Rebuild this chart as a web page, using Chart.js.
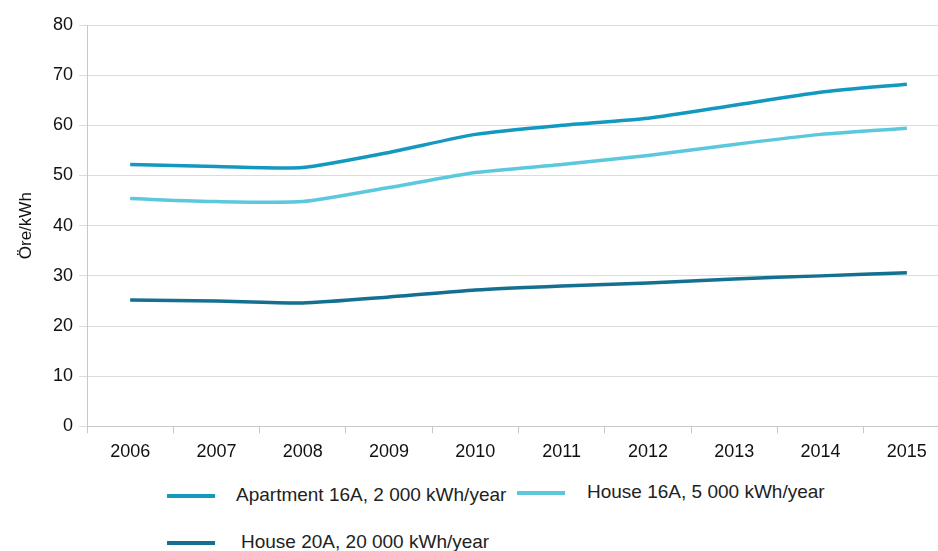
<!DOCTYPE html>
<html>
<head>
<meta charset="utf-8">
<script src="https://cdn.jsdelivr.net/npm/chart.js@4/dist/chart.umd.min.js"></script>
<style>
  html, body { margin: 0; padding: 0; background: #fff; overflow: hidden; }
  #wrap { position: relative; width: 938px; height: 551px; overflow: hidden; }
  #box { position: absolute; left: 0; top: 0; width: 950px; height: 471px; }
  .leg { position: absolute; font-family: "Liberation Sans", Arial, sans-serif;
         font-size: 19px; color: #222; white-space: nowrap; line-height: 20px; }
  .leg span.sw { position: absolute; left: 0; top: 9px; width: 48px; height: 4px; }
  .leg span.tx { position: absolute; top: 0; }
</style>
</head>
<body>
<div id="wrap">
  <div id="box"><canvas id="chart"></canvas></div>
  <div id="legend"></div>
</div>
<script>
// data
const years = ['2006', '2007', '2008', '2009', '2010', '2011', '2012', '2013', '2014', '2015'];
const apartment16A = [52.2, 51.8, 51.6, 54.6, 58.2, 60.0, 61.4, 64.0, 66.6, 68.2];
const house16A = [45.4, 44.8, 44.8, 47.6, 50.6, 52.2, 54.0, 56.2, 58.2, 59.4];
const house20A = [25.2, 25.0, 24.6, 25.8, 27.2, 28.0, 28.6, 29.4, 30.0, 30.6];
const seriesNames = ['Apartment 16A, 2 000 kWh/year', 'House 16A, 5 000 kWh/year', 'House 20A, 20 000 kWh/year'];
const seriesColors = ['#1399c0', '#5cc8dd', '#147090'];

const mkSet = (i, vals) => ({
    label: seriesNames[i],
    data: vals,
    borderColor: seriesColors[i],
    backgroundColor: seriesColors[i],
    borderWidth: 3.5,
    pointRadius: 0,
    tension: 0.2,
    fill: false
});

const ctx = document.getElementById('chart');
new Chart(ctx, {
    type: 'line',
    data: {
        labels: years,
        datasets: [mkSet(0, apartment16A), mkSet(1, house16A), mkSet(2, house20A)]
    },
    options: {
        responsive: true,
        maintainAspectRatio: false,
        animation: false,
        layout: { padding: { top: 25, left: 12, right: 0, bottom: 0 } },
        plugins: { legend: { display: false }, tooltip: { enabled: false } },
        scales: {
            x: {
                offset: true,
                grid: { offset: true, drawOnChartArea: false, color: '#c8c8c8', tickLength: 7 },
                border: { color: '#c8c8c8' },
                ticks: { color: '#111', font: { family: 'Liberation Sans', size: 18 }, padding: 8, maxRotation: 0 }
            },
            y: {
                min: 0, max: 80,
                ticks: { stepSize: 10, color: '#111', font: { family: 'Liberation Sans', size: 18 }, padding: 6 },
                grid: { color: '#dcdcdc', tickLength: 8 },
                border: { color: '#c8c8c8' },
                title: { display: true, text: 'Öre/kWh', color: '#111', font: { family: 'Liberation Sans', size: 17 }, padding: 4 },
                afterFit: (s) => { s.width = 75; }
            }
        }
    }
});

// html legend, laid out like the original
const legPos = [[167, 485, 69], [517, 482, 70], [167, 532, 74]];
const legend = document.getElementById('legend');
seriesNames.forEach((name, i) => {
    const d = document.createElement('div');
    d.className = 'leg';
    d.style.left = legPos[i][0] + 'px';
    d.style.top = legPos[i][1] + 'px';
    d.innerHTML = '<span class="sw" style="background:' + seriesColors[i] + '"></span>' +
        '<span class="tx" style="left:' + legPos[i][2] + 'px">' + name + '</span>';
    legend.appendChild(d);
});
</script>
</body>
</html>
